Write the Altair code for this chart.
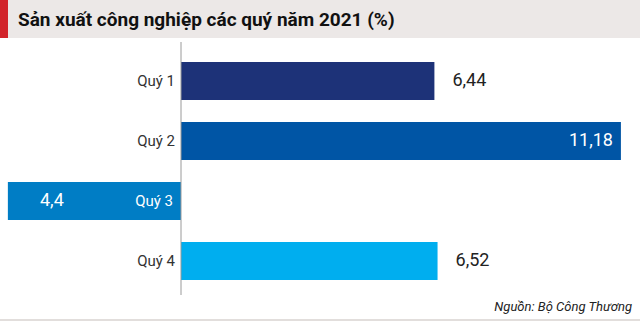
import altair as alt
import pandas as pd

quarters = ["Quý 1", "Quý 2", "Quý 3", "Quý 4"]
values = [6.44, 11.18, -4.4, 6.52]
labels = ["6,44", "11,18", "4,4", "6,52"]
colors = ["#1d3278", "#0055a5", "#007dc5", "#00aeef"]
title_text = "Sản xuất công nghiệp các quý năm 2021 (%)"
source_text = "Nguồn: Bộ Công Thương"

df = pd.DataFrame({"quarter": quarters, "value": values, "label": labels, "color": colors})
df["zero"] = 0.0

W, H = 640, 322
FONT = "Roboto"

xs = alt.Scale(domain=[-4.6, 11.665], nice=False, zero=False)
ys = alt.Scale(domain=quarters, range=[62, 280], paddingInner=0.367, paddingOuter=0)

base = alt.Chart(df)

header = alt.Chart(pd.DataFrame({"a": [0]})).mark_rect(color="#ece8e7").encode(
    x=alt.value(0), x2=alt.value(W), y=alt.value(0), y2=alt.value(38))
redbar = alt.Chart(pd.DataFrame({"a": [0]})).mark_rect(color="#d2232a").encode(
    x=alt.value(0), x2=alt.value(8), y=alt.value(0), y2=alt.value(38))
title = alt.Chart(pd.DataFrame({"t": [title_text]})).mark_text(
    align="left", baseline="alphabetic", font=FONT, fontWeight="bold", fontSize=19, color="#111111"
).encode(x=alt.value(18), y=alt.value(26), text="t:N")
bottom = alt.Chart(pd.DataFrame({"a": [0]})).mark_rule(color="#e2dedc", strokeWidth=2).encode(
    x=alt.value(0), x2=alt.value(W), y=alt.value(320))
source = alt.Chart(pd.DataFrame({"t": [source_text]})).mark_text(
    align="right", baseline="alphabetic", font=FONT, fontStyle="italic", fontSize=13, color="#222222"
).encode(x=alt.value(632), y=alt.value(311), text="t:N")

bars = base.mark_bar().encode(
    x=alt.X("zero:Q", scale=xs, axis=None),
    x2="value:Q",
    y=alt.Y("quarter:N", scale=ys, axis=None),
    color=alt.Color("color:N", scale=None),
)

zero_line = alt.Chart(pd.DataFrame({"z": [0]})).mark_rule(color="#9a9a9a", strokeWidth=1).encode(
    x=alt.X("z:Q", scale=xs), y=alt.value(42), y2=alt.value(295))

cat_pos = base.transform_filter("datum.value >= 0").mark_text(
    align="right", baseline="middle", font=FONT, fontSize=15, color="#333333", dx=-6
).encode(x=alt.X("zero:Q", scale=xs), y=alt.Y("quarter:N", scale=ys), text="quarter:N")
cat_neg = base.transform_filter("datum.value < 0").mark_text(
    align="right", baseline="middle", font=FONT, fontSize=15, color="white", dx=-8
).encode(x=alt.X("zero:Q", scale=xs), y=alt.Y("quarter:N", scale=ys), text="quarter:N")

val_out = base.transform_filter("datum.value >= 0 && datum.value < 10").mark_text(
    align="left", baseline="middle", font=FONT, fontSize=18, color="#222222", dx=18
).encode(x=alt.X("value:Q", scale=xs), y=alt.Y("quarter:N", scale=ys), text="label:N")
val_in = base.transform_filter("datum.value >= 10").mark_text(
    align="right", baseline="middle", font=FONT, fontSize=18, color="white", dx=-8
).encode(x=alt.X("value:Q", scale=xs), y=alt.Y("quarter:N", scale=ys), text="label:N")
val_neg = base.transform_filter("datum.value < 0").mark_text(
    align="center", baseline="middle", font=FONT, fontSize=18, color="white", dx=44
).encode(x=alt.X("value:Q", scale=xs), y=alt.Y("quarter:N", scale=ys), text="label:N")

chart = alt.layer(
    header, redbar, title, bars, zero_line, cat_pos, cat_neg, val_out, val_in, val_neg, bottom, source
).properties(
    width=W, height=H, padding=0, autosize=alt.AutoSizeParams(type="none"), background="white"
).configure_view(stroke=None)

chart.save("out.html", embed_options={"renderer": "svg", "actions": False})
